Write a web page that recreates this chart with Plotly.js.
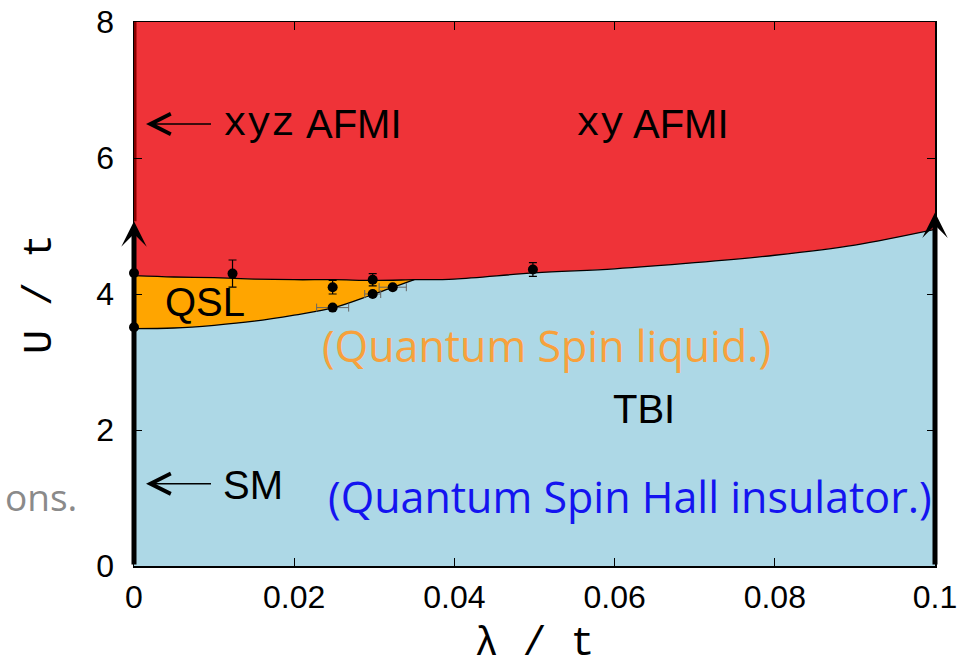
<!DOCTYPE html>
<html>
<head>
<meta charset="utf-8">
<script src="https://cdn.plot.ly/plotly-3.0.1.min.js"></script>
<style>
  html, body { margin: 0; padding: 0; background: #ffffff; }
  #chart { width: 961px; height: 667px; }
</style>
</head>
<body>
<div id="chart"></div>
<script>
// ---- data ----
// upper phase boundary (TBI/QSL -> AFMI)
const lamUpper = [0, 0.005, 0.01, 0.015, 0.02, 0.025, 0.03, 0.035, 0.04, 0.05, 0.06, 0.07, 0.08, 0.09, 0.1];
const uUpper   = [4.27, 4.25, 4.24, 4.22, 4.21, 4.21, 4.20, 4.21, 4.22, 4.31, 4.37, 4.46, 4.57, 4.72, 4.95];
// top of the diagram (AFMI region upper edge)
const uTop     = [8, 8, 8, 8, 8, 8, 8, 8, 8, 8, 8, 8, 8, 8, 8];
// QSL pocket
const lamQSL   = [0, 0.005, 0.01, 0.015, 0.02, 0.025, 0.03, 0.035];
const uQSLlow  = [3.49, 3.50, 3.54, 3.60, 3.69, 3.80, 4.00, 4.21];
const uQSLhigh = [4.27, 4.25, 4.24, 4.22, 4.21, 4.21, 4.20, 4.21];
// QMC data points
const ptLam = [0, 0, 0.0123, 0.0248, 0.0248, 0.0298, 0.0298, 0.0323, 0.0498];
const ptU   = [4.31, 3.51, 4.30, 4.10, 3.80, 4.21, 4.00, 4.10, 4.36];
const ptErr = [0, 0, 0.20, 0.10, 0, 0.09, 0, 0, 0.10];
// dashed-box points (horizontal uncertainty)
const boxLam = [0.0248, 0.0298, 0.0323];
const boxU   = [3.80, 4.00, 4.10];
const boxErr = [0.002, 0.001, 0.0017];
// thick arrows along lambda = 0 and lambda = 0.1
const arrowLam = [0, 0.1];
const arrowTip = [5.07, 5.2];
// xyz AFMI line on lambda = 0
const xyzLam = [0, 0];
const xyzU   = [5.07, 8];
// axis ticks
const xTicks = [0, 0.02, 0.04, 0.06, 0.08, 0.1];
const xTickText = ['0', '0.02', '0.04', '0.06', '0.08', '0.1'];
const yTicks = [0, 2, 4, 6, 8];
const yTickText = ['0', '2', '4', '6', '8'];

const RED = '#EF3338', BLUE = '#ADD8E6', ORANGE = '#FFA500';
const SANS = 'Liberation Sans';
const MONO = 'Liberation Mono';
const SLIDE = 'Open Sans';

const traces = [
  { x: lamUpper, y: uUpper, mode: 'lines', fill: 'tozeroy', fillcolor: BLUE,
    line: { width: 0, shape: 'spline', color: BLUE }, hoverinfo: 'skip' },
  { x: lamUpper, y: uTop, mode: 'lines', fill: 'tonexty', fillcolor: RED,
    line: { width: 0, color: RED }, hoverinfo: 'skip' },
  { x: lamQSL, y: uQSLlow, mode: 'lines',
    line: { width: 1.3, shape: 'spline', color: '#000' }, hoverinfo: 'skip' },
  { x: lamQSL, y: uQSLhigh, mode: 'lines', fill: 'tonexty', fillcolor: ORANGE,
    line: { width: 0, shape: 'spline', color: ORANGE }, hoverinfo: 'skip' },
  { x: lamUpper, y: uUpper, mode: 'lines',
    line: { width: 1.3, shape: 'spline', color: '#000' }, hoverinfo: 'skip' },
  { x: xyzLam, y: xyzU, mode: 'lines', line: { width: 5, color: '#8B0000' },
    cliponaxis: false, hoverinfo: 'skip' },
  { x: boxLam, y: boxU, mode: 'markers', marker: { size: 1, color: '#555' },
    error_x: { type: 'data', array: boxErr, visible: true, color: '#666', thickness: 1, width: 4 },
    hoverinfo: 'skip' },
  { x: ptLam, y: ptU, mode: 'markers', marker: { size: 10, color: '#000' },
    error_y: { type: 'data', array: ptErr, visible: true, color: '#000', thickness: 1.2, width: 4 },
    cliponaxis: false }
];

function textAnn(x, y, text, size, color, family, xanchor) {
  return { x: x, y: y, xref: 'x', yref: 'y', text: text, showarrow: false,
           xanchor: xanchor || 'center', yanchor: 'middle', borderpad: 0,
           font: { size: size, color: color, family: family } };
}
function smallArrow(xTip, xTail, y) {
  return { x: xTip, y: y, ax: xTail, ay: y, xref: 'x', yref: 'y', axref: 'x', ayref: 'y',
           text: '', showarrow: true, arrowhead: 5, arrowwidth: 1.6, arrowsize: 2.5,
           arrowcolor: '#000', standoff: 0, startstandoff: 0 };
}

const annotations = [
  // thick vertical arrows
  ...arrowLam.map((lx, i) => ({ x: lx, y: arrowTip[i], ax: lx, ay: 0,
      xref: 'x', yref: 'y', axref: 'x', ayref: 'y', text: '', showarrow: true,
      arrowhead: 3, arrowwidth: 5, arrowsize: 0.85, arrowcolor: '#000', standoff: 0 })),
  smallArrow(0.0015, 0.0098, 6.5),
  smallArrow(0.0015, 0.0098, 1.21),
  textAnn(0.0110, 6.5, 'xyz', 40, '#000', MONO, 'left'),
  textAnn(0.0213, 6.5, 'AFMI', 40, '#000', SANS, 'left'),
  textAnn(0.0551, 6.5, 'xy', 40, '#000', MONO, 'left'),
  textAnn(0.0622, 6.5, 'AFMI', 40, '#000', SANS, 'left'),
  textAnn(0.0089, 3.88, 'QSL', 40, '#000', SANS),
  textAnn(0.0637, 2.31, 'TBI', 40, '#000', SANS),
  textAnn(0.011, 1.19, 'SM', 40, '#000', SANS, 'left'),
  textAnn(0.0515, 3.24, '(Quantum Spin liquid.)', 43, '#F7A13C', SLIDE),
  textAnn(0.0619, 1.02, '(Quantum Spin Hall insulator.)', 43, '#1414F0', SLIDE),
  { x: -0.0699, y: 1.02, xref: 'paper', yref: 'y', text: 'ons.', showarrow: false,
    xanchor: 'right', yanchor: 'middle', borderpad: 0,
    font: { size: 37, color: '#8A8A8A', family: SLIDE } }
];

const layout = {
  width: 961, height: 667,
  margin: { l: 134, r: 26, t: 22, b: 101 },
  paper_bgcolor: '#ffffff', plot_bgcolor: '#ffffff',
  showlegend: false,
  xaxis: {
    range: [0, 0.1], tickvals: xTicks, ticktext: xTickText,
    ticks: 'inside', ticklen: 8, tickwidth: 1, tickcolor: '#000',
    showline: true, linecolor: '#000', linewidth: 1.5, mirror: 'ticks',
    showgrid: false, zeroline: false, ticklabelstandoff: 2,
    tickfont: { family: SANS, size: 32, color: '#000' },
    title: { text: 'λ / t', font: { family: MONO, size: 40, color: '#000' }, standoff: 21 }
  },
  yaxis: {
    range: [0, 8], tickvals: yTicks, ticktext: yTickText,
    ticks: 'inside', ticklen: 8, tickwidth: 1, tickcolor: '#000',
    showline: true, linecolor: '#000', linewidth: 1.5, mirror: 'ticks',
    showgrid: false, zeroline: false, ticklabelstandoff: 12,
    tickfont: { family: SANS, size: 32, color: '#000' },
    title: { text: 'U / t', font: { family: MONO, size: 40, color: '#000' }, standoff: 32 }
  },
  annotations: annotations
};

Plotly.newPlot('chart', traces, layout, { displayModeBar: false, staticPlot: true });
</script>
</body>
</html>
